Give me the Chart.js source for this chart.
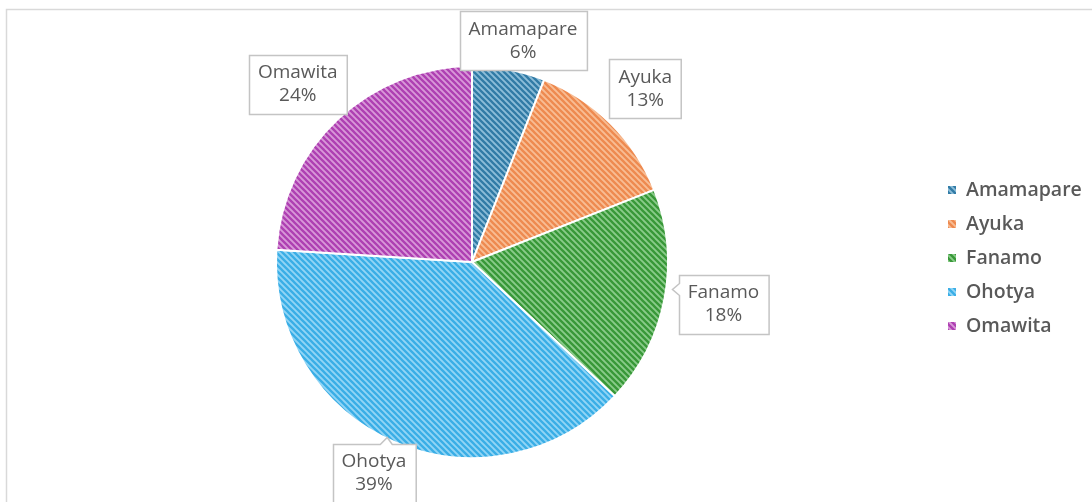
<!DOCTYPE html>
<html>
<head>
<meta charset="utf-8">
<script src="https://cdn.jsdelivr.net/npm/chart.js@4/dist/chart.umd.min.js"></script>
<style>
  html, body { margin: 0; padding: 0; background: #ffffff; }
  #wrap { width: 1092px; height: 502px; position: relative; }
  canvas { display: block; }
</style>
</head>
<body>
<div id="wrap"><canvas id="c" width="1092" height="502"></canvas></div>
<script>
// ---- data ----
const categories = ['Amamapare', 'Ayuka', 'Fanamo', 'Ohotya', 'Omawita'];
const shares = [6, 13, 18, 39, 24];
const percentLabels = ['6%', '13%', '18%', '39%', '24%'];

// ---- styles ----
const lightColors = ['#8cbdd8', '#f8bd94', '#8acb8a', '#92d5f5', '#d898d8'];
const darkColors  = ['#317ba6', '#ee8a50', '#389838', '#3aaee6', '#ae40b2'];
const labelDistance = [227, 245, 255, 233, 249];
const labelAngleNudge = [2.2, 0, -1.2, 1.5, -1.2]; // degrees
const labelNotch = [null, null, 'left', 'top', null];
const textColor = '#595959';

function makePattern(light, dark) {
  const s = 6;
  const c = document.createElement('canvas');
  c.width = s; c.height = s;
  const x = c.getContext('2d');
  x.fillStyle = light;
  x.fillRect(0, 0, s, s);
  x.strokeStyle = dark;
  x.lineWidth = 2.3;
  x.beginPath();
  for (let k = -1; k <= 1; k++) {
    x.moveTo(k * s - 1, -1);
    x.lineTo(k * s + s + 1, s + 1);
  }
  x.stroke();
  return x.createPattern(c, 'repeat');
}
const patterns = lightColors.map((c, i) => makePattern(c, darkColors[i]));

const overlayPlugin = {
  id: 'overlay',
  beforeDraw(chart) {
    const ctx = chart.ctx;
    ctx.save();
    ctx.fillStyle = '#ffffff';
    ctx.fillRect(0, 0, chart.width, chart.height);
    ctx.strokeStyle = '#d9d9d9';
    ctx.lineWidth = 1.5;
    ctx.strokeRect(6.5, 9.5, chart.width + 20, chart.height + 20);
    ctx.restore();
  },
  afterDatasetsDraw(chart) {
    const ctx = chart.ctx;
    const meta = chart.getDatasetMeta(0);
    ctx.save();
    // data labels
    ctx.font = '19px "Open Sans"';
    ctx.textAlign = 'center';
    ctx.textBaseline = 'middle';
    meta.data.forEach((arc, i) => {
      const p = arc.getProps(['x', 'y', 'startAngle', 'endAngle'], true);
      const mid = (p.startAngle + p.endAngle) / 2 + labelAngleNudge[i] * Math.PI / 180;
      const d = labelDistance[i];
      const cx = p.x + Math.cos(mid) * d;
      const cy = p.y + Math.sin(mid) * d;
      const l1 = chart.data.labels[i];
      const l2 = percentLabels[i];
      const w = Math.max(ctx.measureText(l1).width, ctx.measureText(l2).width) + 18;
      const h = 59;
      const x0 = Math.round(cx - w / 2) + 0.5, y0 = Math.round(cy - h / 2) + 0.5;
      ctx.beginPath();
      ctx.moveTo(x0, y0);
      if (labelNotch[i] === 'top') {
        const nx = x0 + w * 0.65;
        ctx.lineTo(nx - 7, y0);
        ctx.lineTo(nx, y0 - 7);
        ctx.lineTo(nx + 5, y0);
      }
      ctx.lineTo(x0 + w, y0);
      ctx.lineTo(x0 + w, y0 + h);
      ctx.lineTo(x0, y0 + h);
      if (labelNotch[i] === 'left') {
        const ny = y0 + 14;
        ctx.lineTo(x0, ny + 6);
        ctx.lineTo(x0 - 7, ny);
        ctx.lineTo(x0, ny - 6);
      }
      ctx.closePath();
      ctx.fillStyle = '#ffffff';
      ctx.fill();
      ctx.strokeStyle = '#c4c4c4';
      ctx.lineWidth = 1.5;
      ctx.stroke();
      ctx.fillStyle = textColor;
      ctx.fillText(l1, cx, cy - 11.5);
      ctx.fillText(l2, cx, cy + 11.5);
    });
    // legend
    ctx.font = '600 19.5px "Open Sans"';
    ctx.textAlign = 'left';
    ctx.textBaseline = 'middle';
    chart.data.labels.forEach((lab, i) => {
      const y = 190 + i * 34;
      ctx.fillStyle = patterns[i];
      ctx.fillRect(948, y - 4, 8, 8);
      ctx.fillStyle = textColor;
      ctx.fillText(lab, 966, y);
    });
    ctx.restore();
  }
};

new Chart(document.getElementById('c'), {
  type: 'pie',
  data: {
    labels: categories,
    datasets: [{
      data: shares,
      backgroundColor: patterns,
      borderColor: '#ffffff',
      borderWidth: 2,
      hoverOffset: 0
    }]
  },
  options: {
    responsive: false,
    animation: false,
    layout: { padding: { left: 275, right: 423, top: 65, bottom: 43 } },
    plugins: {
      legend: { display: false },
      tooltip: { enabled: false }
    }
  },
  plugins: [overlayPlugin]
});
</script>
</body>
</html>
